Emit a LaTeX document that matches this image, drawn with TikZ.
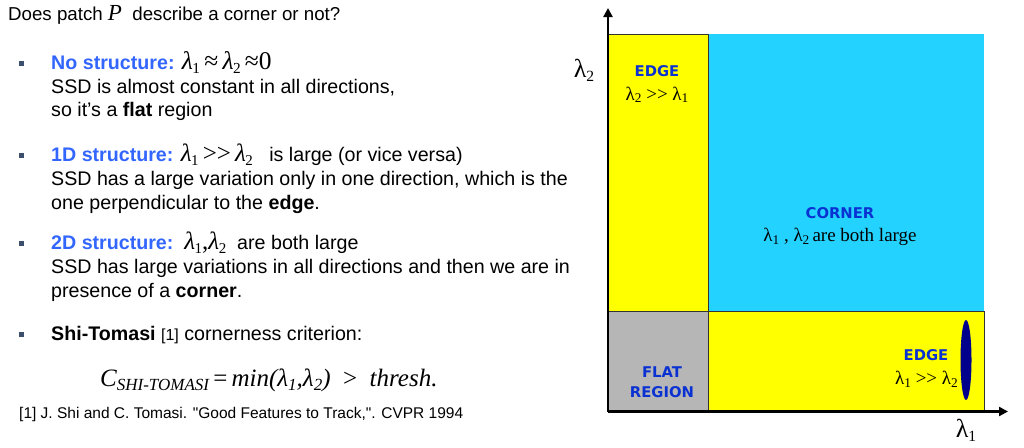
\documentclass[tikz,border=0pt]{standalone}
\usepackage{fontspec}
\setmainfont{Liberation Sans}
\newfontfamily\rawsans[Ligatures=ResetAll]{Liberation Sans}
\newfontfamily\tnr{Liberation Serif}
\newfontfamily\verd{DejaVu Sans}
\usetikzlibrary{arrows.meta,shapes.geometric}
\definecolor{headblue}{RGB}{51,102,255}
\definecolor{lblblue}{RGB}{10,50,210}
\definecolor{bulletc}{RGB}{60,80,110}
\definecolor{ylw}{RGB}{255,255,0}
\definecolor{cyn}{RGB}{36,210,255}
\definecolor{gry}{RGB}{182,182,182}
\definecolor{navy}{RGB}{0,0,140}
\newcommand\sbs[1]{\raisebox{-0.35ex}{\scalebox{0.6}{#1}}}
\newcommand\sbp[1]{\raisebox{-0.3ex}{\scalebox{0.7}{#1}}}
\newcommand\ilam[1]{{\tnr\itshape λ}\kern-0.5pt\sbs{\tnr #1}}
\newcommand\ulam[1]{{\tnr λ}\sbp{\tnr #1}}
\begin{document}
\begin{tikzpicture}[x=1pt,y=-1pt,
  txt/.style={anchor=base west,inner sep=0pt,font=\fontsize{19.65}{23.5}\selectfont},
  bul/.style={fill=bulletc,minimum size=5pt,inner sep=0pt},
  lbl/.style={inner sep=0pt,font=\verd\bfseries\fontsize{14.8}{19}\selectfont,text=lblblue,align=center},
  lam/.style={inner sep=0pt,font=\tnr\fontsize{19}{21}\selectfont},
  reg/.style={draw=black!80,line width=0.8pt},
  axis/.style={line width=2.4pt,-{Triangle[length=9pt,width=9pt]}}]
\useasboundingbox (0,0) rectangle (1024,447);
% title
\node[txt,font=\fontsize{18.7}{23}\selectfont] (title) at (8,20) {Does patch {\tnr\itshape\fontsize{23}{23}\selectfont P} \ describe a corner or not?};
% bullets
\node[bul] (b1) at (21,63) {};
\node[bul] (b2) at (21,155) {};
\node[bul] (b3) at (21,243) {};
\node[bul] (b4) at (21,334) {};
\node[txt] (h1) at (51,69) {\textbf{\textcolor{headblue}{No structure:}} {\fontsize{25.5}{25}\selectfont\ilam{1}\,{\tnr ≈}\,\ilam{2}\,{\tnr ≈0}}};
\node[txt] (h1a) at (51,93) {SSD is almost constant in all directions,};
\node[txt] (h1b) at (51,116) {so it’s a \textbf{flat} region};
\node[txt] (h2) at (51,161) {\textbf{\textcolor{headblue}{1D structure:}} {\fontsize{25}{25}\selectfont\ilam{1}\,{\tnr >>}\,\ilam{2}}\ \ \ is large (or vice versa)};
\node[txt] (h2a) at (51,185) {SSD has a large variation only in one direction, which is the};
\node[txt] (h2b) at (51,209) {one perpendicular to the \textbf{edge}.};
\node[txt] (h3) at (51,249) {\textbf{\textcolor{headblue}{2D structure:}}\ \ {\fontsize{25}{25}\selectfont\ilam{1}{\tnr ,}\ilam{2}}\ \ are both large};
\node[txt] (h3a) at (51,273) {SSD has large variations in all directions and then we are in};
\node[txt] (h3b) at (51,297) {presence of a \textbf{corner}.};
\node[txt] (h4) at (51,340) {\textbf{Shi-Tomasi} {\fontsize{16}{16}\selectfont[1]} cornerness criterion:};
\node[txt,font=\tnr\itshape\fontsize{25}{25}\selectfont] (formula) at (100,386)
  {C\raisebox{-0.4ex}{\fontsize{17}{17}\selectfont SHI-TOMASI}\,{\upshape=}\,min(λ\raisebox{-0.4ex}{\fontsize{17}{17}\selectfont 1},λ\raisebox{-0.4ex}{\fontsize{17}{17}\selectfont 2})\ \ {\upshape>}\ \ thresh.};
\node[txt,font=\rawsans\fontsize{15.5}{18}\selectfont] (ref) at (19,418) {[1] J. Shi and C. Tomasi. "Good Features to Track,". CVPR 1994};
% plot regions
\fill[cyn] (708,34) rectangle (984,311);
\draw[reg,fill=ylw] (608,34) rectangle (708,311);
\draw[reg,fill=gry] (608,311) rectangle (708,411);
\draw[reg,fill=ylw] (708,311) rectangle (984,411);
% axes
\coordinate (o) at (608,411.5);
\coordinate (ytip) at (608,8);
\coordinate (xtip) at (1008,411.5);
\draw[axis] (o) -- (ytip);
\draw[axis] (o) -- (xtip);
\node[inner sep=0pt,font=\tnr\fontsize{26}{26}\selectfont] (ly) at (584,70) {λ\sbs{2}};
\node[inner sep=0pt,font=\tnr\fontsize{26}{26}\selectfont] (lx) at (966,430) {λ\sbs{1}};
% labels
\node[lbl] (e1) at (657,71) {EDGE};
\node[lam] (e1l) at (657,95) {\ulam{2} >> \ulam{1}};
\node[lbl] (cn) at (840,213) {CORNER};
\node[lam] (cnl) at (840,237) {\ulam{1} , \ulam{2}\,are both large};
\node[lbl,font=\verd\bfseries\fontsize{14.8}{20}\selectfont] (fl) at (662,382) {FLAT\\REGION};
\node[lbl] (e2) at (926,355) {EDGE};
\node[lam,anchor=east] (e2l) at (958,379) {\ulam{1} >> \ulam{2}};
\node[draw=none,fill=navy,ellipse,minimum width=11pt,minimum height=80pt,inner sep=0pt] (ell) at (966,360) {};
\end{tikzpicture}
\end{document}
